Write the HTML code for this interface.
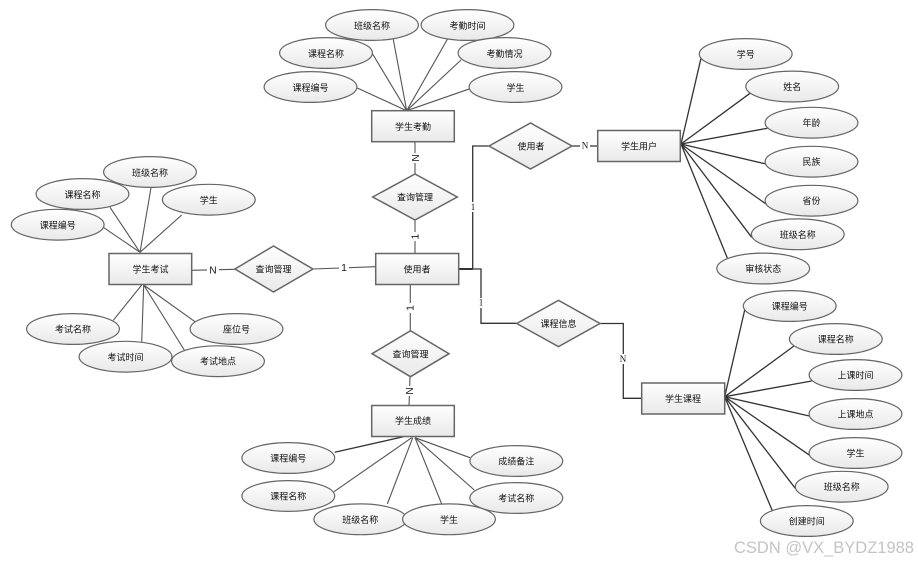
<!DOCTYPE html>
<html><head><meta charset="utf-8">
<style>
html,body{margin:0;padding:0;background:#fff;width:918px;height:563px;overflow:hidden}
svg{display:block}
text{font-family:"Liberation Sans","WenQuanYi Zen Hei","Noto Sans CJK SC",sans-serif;font-size:9px;fill:#111;text-anchor:middle}
.l{stroke:#555;stroke-width:1.1;fill:none}
.d{stroke:#333;stroke-width:1.3;fill:none}
.s{stroke:#666;stroke-width:1.5;fill:url(#g)}
.c{font-family:"Liberation Serif",serif;font-size:9px}
.n{font-size:10px}
.w{font-family:"Liberation Sans",sans-serif;font-size:16.5px;fill:#c4c4c4;text-anchor:start}
</style></head><body>
<svg width="918" height="563" viewBox="0 0 918 563" xmlns="http://www.w3.org/2000/svg">
<defs><linearGradient id="g" x1="0" y1="0" x2="0" y2="1"><stop offset="0" stop-color="#ffffff"/><stop offset="1" stop-color="#e9e9e9"/></linearGradient></defs>

<!-- attendance lines -->
<g class="l">
<path d="M393.3 39.5L406.7 110.7M372 53L406.7 110.7M356.7 87.7L406.7 110.7M447.5 39L406.7 110.7M461 60L406.7 110.7M470 88.7L406.7 110.7"/>
<path d="M151 187.7L140 252.3M110 207.3L140 252.3M181.7 215L140 252.3M103.3 227.3L140 252.3"/>
<path d="M113.3 320.3L141.7 285M141.7 341.7L143.7 285M184.3 350L143.7 285M195 321.7L143.7 285"/>
<path d="M334 491.7L411.7 437.7M387.3 504L412.7 437.7M441.7 504L415 437.7M474.3 490L415 437.7M470 457.7L415 437.7"/>
<path d="M415 141.7V174M415 220V253.5M410.3 284.7V331M410 376.7L409 406"/>
<path d="M191.7 270.3L235 269.3M313 269L375.7 266.7"/>
</g>
<g class="d">
<path d="M334.7 452.3L403.3 436.7"/>
<path d="M744.7 310L724.7 396.7M794 346L724.7 396.7M811.7 381L724.7 396.7M809.3 416L724.7 396.7M811.7 456.7L724.7 396.7M795.3 488.3L724.7 396.7M772.3 510.7L724.7 396.7"/>
<path d="M701 58.3L681 144M750 93.3L681 144M767.3 128.3L681 144M766 164L681 144M766 204L681 144M751.7 237.3L681 144M727.3 258L681 144"/>
<path d="M458.7 269H481V323.3H516.7M472.7 269V146H489M572 146H597.7M600 323.5H623.3V398.3H641.7"/>
<path d="M458.7 269H472.7" stroke-width="2"/>
</g>

<!-- connector labels -->
<g>
<rect x="410" y="153" width="10" height="10" fill="#fff"/>
<text x="415" y="161" class="n" transform="rotate(90 415 158)">N</text>
<rect x="410" y="232" width="10" height="9" fill="#fff"/>
<text x="415" y="240" class="n" transform="rotate(-90 415 236.7)">1</text>
<rect x="405" y="303" width="10" height="10" fill="#fff"/>
<text x="410.5" y="311" class="n" transform="rotate(-90 410.5 308)">1</text>
<rect x="404" y="386" width="10" height="10" fill="#fff"/>
<text x="409" y="394" class="n" transform="rotate(90 409 391)">N</text>
<rect x="207" y="265" width="12" height="10" fill="#fff"/>
<text x="213" y="273.5" class="n">N</text>
<rect x="339" y="262" width="10" height="10" fill="#fff"/>
<text x="344" y="271" class="n">1</text>
<rect x="469" y="202" width="8" height="10" fill="#fff"/>
<text x="473" y="210" class="c">1</text>
<rect x="477" y="298" width="8" height="10" fill="#fff"/>
<text x="481" y="305.5" class="c">1</text>
<rect x="580" y="141" width="10" height="10" fill="#fff"/>
<text x="585" y="148.5" class="c">N</text>
<rect x="618" y="354" width="10" height="10" fill="#fff"/>
<text x="623" y="362" class="c">N</text>
</g>

<!-- diamonds -->
<g class="s">
<polygon points="372.7,197 415,174 457.3,197 415,220"/>
<polygon points="235,269 273.5,246 313,269 273.5,292"/>
<polygon points="372,353.7 410.5,330.7 449,353.7 410.5,376.7"/>
<polygon points="489,146 530.5,123 572,146 530.5,169"/>
<polygon points="516.7,323.5 558.5,300.3 600,323.5 558.5,346.7"/>
<rect x="371.7" y="110.7" width="82.6" height="31"/>
<rect x="375.7" y="253.5" width="83" height="31"/>
<rect x="109" y="253.5" width="82.7" height="31"/>
<rect x="371.7" y="405.5" width="82.6" height="31"/>
<rect x="597.7" y="130.5" width="82.6" height="31"/>
<rect x="641.7" y="383" width="83" height="31"/>
</g>

<!-- ellipses -->
<g class="s" style="stroke-width:1.2">
<ellipse cx="372" cy="25" rx="46.4" ry="15.4"/>
<ellipse cx="467.5" cy="25" rx="46.4" ry="15.4"/>
<ellipse cx="326" cy="53" rx="46.4" ry="15.4"/>
<ellipse cx="504.5" cy="53" rx="46.4" ry="15.4"/>
<ellipse cx="310.5" cy="87" rx="46.4" ry="15.4"/>
<ellipse cx="515.5" cy="87" rx="46.4" ry="15.4"/>
<ellipse cx="150" cy="172" rx="46.4" ry="15.4"/>
<ellipse cx="82.5" cy="194" rx="46.4" ry="15.4"/>
<ellipse cx="208.8" cy="199.7" rx="46.4" ry="15.4"/>
<ellipse cx="57.7" cy="224.7" rx="46.4" ry="15.4"/>
<ellipse cx="73" cy="329" rx="46.4" ry="15.4"/>
<ellipse cx="236.5" cy="329" rx="46.4" ry="15.4"/>
<ellipse cx="125.5" cy="356.7" rx="46.4" ry="15.4"/>
<ellipse cx="218" cy="361.2" rx="46.4" ry="15.4"/>
<ellipse cx="288.3" cy="458" rx="46.4" ry="15.4"/>
<ellipse cx="288.3" cy="496" rx="46.4" ry="15.4"/>
<ellipse cx="360.3" cy="519.3" rx="46.4" ry="15.4"/>
<ellipse cx="449" cy="519.3" rx="46.4" ry="15.4"/>
<ellipse cx="516.3" cy="461" rx="46.4" ry="15.4"/>
<ellipse cx="516.3" cy="498" rx="46.4" ry="15.4"/>
<ellipse cx="745.7" cy="54" rx="46.4" ry="15.4"/>
<ellipse cx="792.2" cy="86.5" rx="46.4" ry="15.4"/>
<ellipse cx="811.5" cy="122.7" rx="46.4" ry="15.4"/>
<ellipse cx="811.5" cy="161.7" rx="46.4" ry="15.4"/>
<ellipse cx="811.5" cy="200.7" rx="46.4" ry="15.4"/>
<ellipse cx="797.8" cy="234.3" rx="46.4" ry="15.4"/>
<ellipse cx="763.2" cy="268.5" rx="46.4" ry="15.4"/>
<ellipse cx="789.7" cy="306" rx="46.4" ry="15.4"/>
<ellipse cx="835.8" cy="339" rx="46.4" ry="15.4"/>
<ellipse cx="855.5" cy="375" rx="46.4" ry="15.4"/>
<ellipse cx="855.5" cy="414" rx="46.4" ry="15.4"/>
<ellipse cx="855.5" cy="453" rx="46.4" ry="15.4"/>
<ellipse cx="841.7" cy="486.7" rx="46.4" ry="15.4"/>
<ellipse cx="806.8" cy="521" rx="46.4" ry="15.4"/>
</g>

<!-- labels -->
<g>
<text x="372" y="29">班级名称</text>
<text x="467.5" y="29">考勤时间</text>
<text x="326" y="57">课程名称</text>
<text x="504.5" y="57">考勤情况</text>
<text x="310.5" y="91">课程编号</text>
<text x="515.5" y="91">学生</text>
<text x="413" y="130">学生考勤</text>
<text x="415" y="200.5">查询管理</text>
<text x="150" y="176">班级名称</text>
<text x="82.5" y="198">课程名称</text>
<text x="208.8" y="203.5">学生</text>
<text x="57.7" y="228.5">课程编号</text>
<text x="150.5" y="272.5">学生考试</text>
<text x="273.5" y="272.5">查询管理</text>
<text x="417" y="272.5">使用者</text>
<text x="73" y="332.5">考试名称</text>
<text x="236.5" y="332.5">座位号</text>
<text x="125.5" y="360.5">考试时间</text>
<text x="218" y="364.5">考试地点</text>
<text x="410.5" y="357.5">查询管理</text>
<text x="413" y="424">学生成绩</text>
<text x="288.3" y="461.5">课程编号</text>
<text x="288.3" y="499.5">课程名称</text>
<text x="360.3" y="523">班级名称</text>
<text x="449" y="523">学生</text>
<text x="516.3" y="464.5">成绩备注</text>
<text x="516.3" y="501.5">考试名称</text>
<text x="531" y="149.5">使用者</text>
<text x="558.5" y="327">课程信息</text>
<text x="639" y="149.5">学生用户</text>
<text x="683" y="402">学生课程</text>
<text x="745.7" y="57.5">学号</text>
<text x="792.2" y="90">姓名</text>
<text x="811.5" y="126">年龄</text>
<text x="811.5" y="165">民族</text>
<text x="811.5" y="204">省份</text>
<text x="797.8" y="238">班级名称</text>
<text x="763.2" y="272">审核状态</text>
<text x="789.7" y="309.5">课程编号</text>
<text x="835.8" y="342.5">课程名称</text>
<text x="855.5" y="378.5">上课时间</text>
<text x="855.5" y="417.5">上课地点</text>
<text x="855.5" y="456.5">学生</text>
<text x="841.7" y="490">班级名称</text>
<text x="806.8" y="524.5">创建时间</text>
</g>
<text x="734" y="553" class="w">CSDN @VX_BYDZ1988</text>
</svg>
</body></html>
